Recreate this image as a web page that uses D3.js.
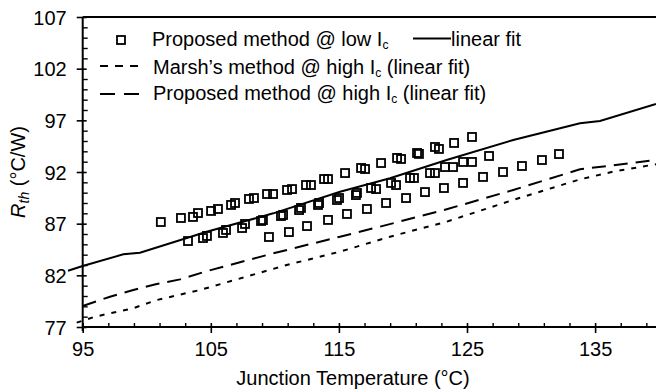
<!DOCTYPE html>
<html>
<head>
<meta charset="utf-8">
<script src="https://cdn.jsdelivr.net/npm/d3@7"></script>
<style>
  body { margin: 0; background: #fff; }
  svg { display: block; font-family: "Liberation Sans", Arial, sans-serif; }
</style>
</head>
<body>
<div id="chart"></div>
<script>
// measured points, proposed method @ low Ic (three runs), [T, Rth]
const lowIcRunA = [
  [101.1, 87.16], [102.67, 87.55], [103.61, 87.65], [104.0, 88.03], [105.02, 88.23],
  [105.56, 88.42], [106.58, 88.81], [106.89, 89.0], [107.98, 89.39], [108.37, 89.48],
  [109.39, 89.87], [109.86, 89.87], [110.95, 90.26], [111.34, 90.35], [112.43, 90.74],
  [112.82, 90.74], [113.84, 91.32], [114.15, 91.32], [115.48, 91.9], [116.73, 92.39],
  [117.04, 92.29], [118.29, 92.87], [119.54, 93.36], [119.85, 93.26], [121.1, 93.84],
  [121.25, 93.75], [122.5, 94.42], [122.81, 94.23], [123.99, 94.81], [125.39, 95.39]
];
const lowIcRunB = [
  [103.22, 85.32], [104.39, 85.61], [104.7, 85.81], [105.95, 86.1], [106.19, 86.39],
  [107.44, 86.58], [107.67, 86.97], [108.92, 87.26], [109.07, 87.35], [110.48, 87.74],
  [110.64, 87.84], [111.89, 88.32], [112.04, 88.52], [113.37, 88.81], [113.45, 89.0],
  [114.85, 89.29], [115.01, 89.48], [116.33, 89.77], [116.41, 89.97], [117.51, 90.45],
  [117.9, 90.35], [119.07, 90.94], [119.46, 90.74], [120.55, 91.42], [120.86, 91.42],
  [122.11, 91.9], [122.5, 91.9], [123.28, 92.48], [123.91, 92.48], [124.69, 92.97],
  [125.39, 92.97], [126.72, 93.55]
];
const lowIcRunC = [
  [109.54, 85.71], [111.1, 86.19], [112.51, 86.77], [114.15, 87.36], [115.63, 87.94],
  [117.19, 88.42], [118.68, 89.0], [120.24, 89.48], [121.72, 90.06], [123.2, 90.45],
  [124.69, 90.94], [126.25, 91.52], [127.81, 92.0], [129.29, 92.58], [130.85, 93.16],
  [132.18, 93.74]
];

// fitted curves, [T, Rth]
const lowIcFit = [
  [93.85, 82.45], [95.0, 82.9], [98.17, 84.03], [99.47, 84.19], [104.68, 86.22],
  [109.88, 88.0], [115.09, 90.09], [118.99, 91.39], [123.41, 93.16], [128.61, 95.1],
  [133.82, 96.71], [135.38, 96.93], [139.75, 98.58]
];
const marshHighFit = [
  [94.53, 77.42], [95.96, 78.0], [98.93, 78.81], [100.78, 79.61], [104.15, 80.58],
  [110.93, 83.0], [115.09, 84.29], [118.99, 85.74], [123.41, 87.19], [128.59, 89.29],
  [133.82, 91.29], [136.4, 92.03], [139.75, 92.75]
];
const proposedHighFit = [
  [95.0, 79.03], [97.13, 79.93], [98.95, 80.58], [100.78, 81.16], [102.6, 81.61],
  [104.68, 82.4], [109.88, 84.13], [115.09, 85.74], [118.21, 86.71], [123.41, 88.39],
  [128.61, 90.26], [133.82, 92.26], [139.75, 93.16]
];

const xMajor = [95, 105, 115, 125, 135];
const xMinor = [97, 99, 101, 103, 107, 109, 111, 113, 117, 119, 121, 123, 127, 129, 131, 133, 137, 139];
const yMajor = [77, 82, 87, 92, 97, 102, 107];
const yMinor = d3.range(77, 108).filter(v => !yMajor.includes(v));

const width = 656, height = 392;
const plot = {left: 82.7, right: 656, top: 17, bottom: 327};

const svg = d3.select('#chart').append('svg')
  .attr('width', width)
  .attr('height', height);

const x = d3.scaleLinear().domain([95, 139.8]).range([plot.left, plot.right + 0.6]);
const y = d3.scaleLinear().domain([77, 107]).range([plot.bottom, plot.top]);

// axes
const xAxis = svg.append('g')
  .attr('transform', 'translate(0,' + plot.bottom + ')')
  .call(d3.axisBottom(x).tickValues(xMajor).tickSize(6).tickPadding(9).tickFormat(d3.format('d')));
const yAxis = svg.append('g')
  .attr('transform', 'translate(' + plot.left + ',0)')
  .call(d3.axisLeft(y).tickValues(yMajor).tickSize(6).tickPadding(10).tickFormat(d3.format('d')));

[xAxis, yAxis].forEach(g => {
  g.select('.domain').remove();
  g.selectAll('line').attr('stroke', '#000').attr('stroke-width', 1.6);
  g.selectAll('text').attr('fill', '#000').style('font-size', '20px')
    .style('font-family', '"Liberation Sans", Arial, sans-serif');
});
xAxis.selectAll('line').attr('y1', -4);
yAxis.selectAll('line').attr('x1', 4);
yAxis.selectAll('text').attr('dy', '0.36em');
xAxis.selectAll('text').attr('dy', '0.72em');

const xMinorAxis = svg.append('g')
  .attr('transform', 'translate(0,' + plot.bottom + ')')
  .call(d3.axisTop(x).tickValues(xMinor).tickSize(4).tickFormat(''));
const yMinorAxis = svg.append('g')
  .attr('transform', 'translate(' + plot.left + ',0)')
  .call(d3.axisRight(y).tickValues(yMinor).tickSize(5).tickFormat(''));
[xMinorAxis, yMinorAxis].forEach(g => {
  g.select('.domain').remove();
  g.selectAll('line').attr('stroke', '#000').attr('stroke-width', 1.4);
});

// frame lines
svg.append('line')
  .attr('x1', plot.left).attr('x2', width).attr('y1', plot.bottom).attr('y2', plot.bottom)
  .attr('stroke', '#000').attr('stroke-width', 2);
svg.append('line')
  .attr('x1', plot.left).attr('x2', plot.left).attr('y1', plot.top).attr('y2', plot.bottom + 4)
  .attr('stroke', '#000').attr('stroke-width', 2);
svg.append('line')
  .attr('x1', plot.left).attr('x2', width).attr('y1', plot.top).attr('y2', plot.top)
  .attr('stroke', '#000').attr('stroke-width', 2);

// fit lines
const line = d3.line().x(d => x(d[0])).y(d => y(d[1]));
svg.append('path').datum(lowIcFit)
  .attr('d', line).attr('fill', 'none').attr('stroke', '#000').attr('stroke-width', 2);
svg.append('path').datum(marshHighFit)
  .attr('d', line).attr('fill', 'none').attr('stroke', '#000').attr('stroke-width', 2)
  .attr('stroke-dasharray', '5,7');
svg.append('path').datum(proposedHighFit)
  .attr('d', line).attr('fill', 'none').attr('stroke', '#000').attr('stroke-width', 2)
  .attr('stroke-dasharray', '14,8');

// square markers
const sq = 8;
svg.append('g').selectAll('rect')
  .data(lowIcRunA.concat(lowIcRunB, lowIcRunC))
  .enter().append('rect')
  .attr('x', d => x(d[0]) - sq / 2)
  .attr('y', d => y(d[1]) - sq / 2)
  .attr('width', sq).attr('height', sq)
  .attr('fill', 'none').attr('stroke', '#000').attr('stroke-width', 1.8);

// legend
const legend = svg.append('g').style('font-size', '20px').attr('fill', '#000');
legend.append('rect')
  .attr('x', 121 - sq / 2).attr('y', 40 - sq / 2).attr('width', sq).attr('height', sq)
  .attr('fill', 'none').attr('stroke', '#000').attr('stroke-width', 1.8);
const t1 = legend.append('text').attr('x', 152).attr('y', 46);
t1.append('tspan').text('Proposed method @ low I');
t1.append('tspan').attr('font-size', 12).attr('dy', 3).text('c');

legend.append('line').attr('x1', 413).attr('x2', 451).attr('y1', 38.5).attr('y2', 38.5)
  .attr('stroke', '#000').attr('stroke-width', 2);
legend.append('text').attr('x', 451).attr('y', 46).text('linear fit');

legend.append('line').attr('x1', 100).attr('x2', 139).attr('y1', 66).attr('y2', 66)
  .attr('stroke', '#000').attr('stroke-width', 2).attr('stroke-dasharray', '8,7');
const t2 = legend.append('text').attr('x', 153).attr('y', 74);
t2.append('tspan').text('Marsh\u2019s method @ high I');
t2.append('tspan').attr('font-size', 12).attr('dy', 3).text('c');
t2.append('tspan').attr('dy', -3).text(' (linear fit)');

legend.append('line').attr('x1', 100).attr('x2', 139).attr('y1', 94).attr('y2', 94)
  .attr('stroke', '#000').attr('stroke-width', 2).attr('stroke-dasharray', '15,9');
const t3 = legend.append('text').attr('x', 153).attr('y', 100);
t3.append('tspan').text('Proposed method @ high I');
t3.append('tspan').attr('font-size', 12).attr('dy', 3).text('c');
t3.append('tspan').attr('dy', -3).text(' (linear fit)');

// axis titles
svg.append('text')
  .attr('x', 353).attr('y', 385)
  .attr('text-anchor', 'middle')
  .style('font-size', '20px')
  .text('Junction Temperature (\u00b0C)');

const yt = svg.append('text')
  .attr('transform', 'translate(25,172) rotate(-90)')
  .attr('text-anchor', 'middle')
  .style('font-size', '20px');
yt.append('tspan').attr('font-style', 'italic').text('R');
yt.append('tspan').attr('font-style', 'italic').attr('font-size', 14).attr('dy', 4).text('th');
yt.append('tspan').attr('dy', -4).text(' (\u00b0C/W)');
</script>
</body>
</html>
